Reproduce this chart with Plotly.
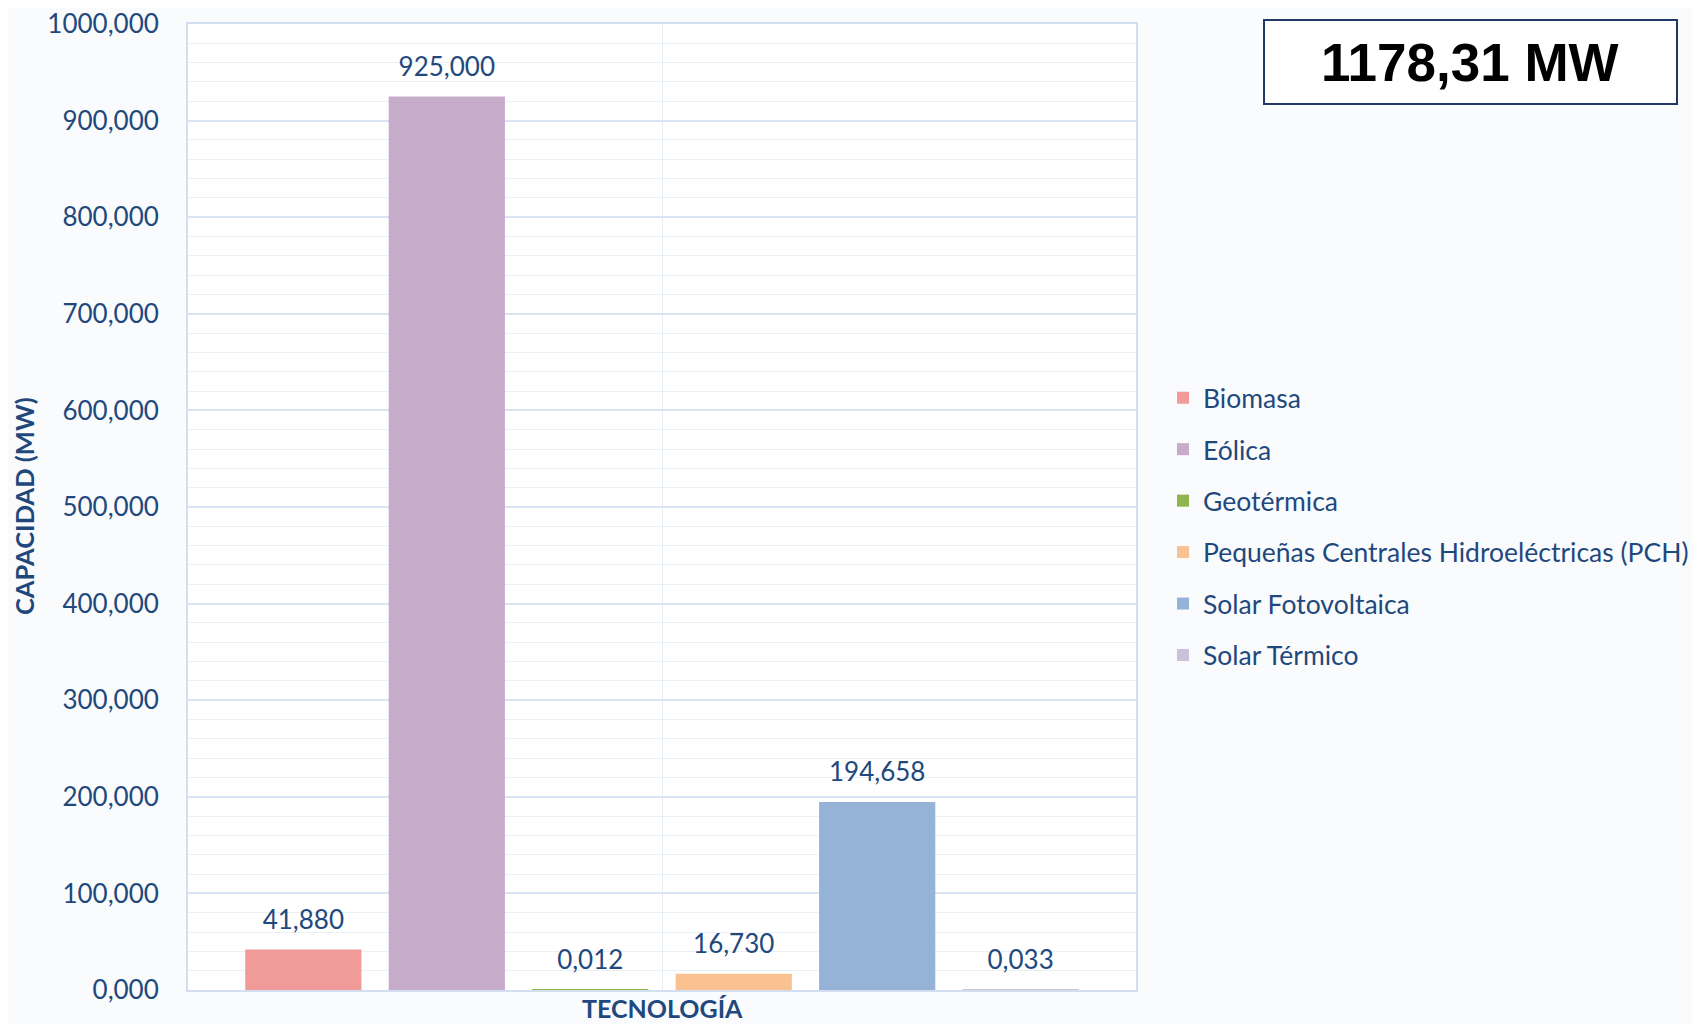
import plotly.graph_objects as go

categories = ["Biomasa", "Eólica", "Geotérmica",
              "Pequeñas Centrales Hidroeléctricas (PCH)",
              "Solar Fotovoltaica", "Solar Térmico"]
values = [41.880, 925.000, 0.012, 16.730, 194.658, 0.033]
colors = ["#F09B99", "#C6ABCA", "#8EB54E", "#FAC191", "#95B3D7", "#CCC1DA"]
y_ticks = [0, 100, 200, 300, 400, 500, 600, 700, 800, 900, 1000]
total_label = "1178,31 MW"
x_title = "TECNOLOGÍA"
y_title = "CAPACIDAD (MW)"

TXT = "#1F497D"
FONT = "Lato"
OFF = 8  # page body margin in the browser
GAP = 0.092

# target positions in window pixels (reference)
L, R, T, B = 188, 1136, 24, 990
W, H = 1700 - OFF, 1024 - OFF
pw, ph = R - L, B - T


def px(x):
    return (x - L) / pw


def py(y):
    return (B - y) / ph


fig = go.Figure()
for i, (name, val, col) in enumerate(zip(categories, values, colors)):
    fig.add_trace(go.Bar(
        x=["Tecnología"], y=[val], name=name, marker_color=col,
        marker_line_width=0, legendgroup=f"g{i}",
    ))
for i, (name, val) in enumerate(zip(categories, values)):
    fig.add_trace(go.Scatter(
        x=["Tecnología"], y=[val], name=name, mode="markers+text",
        marker=dict(size=21, opacity=0, color="#FFFFFF"),
        text=[f"{val:.3f}".replace(".", ",")], textposition="top center",
        textfont=dict(family=FONT, size=26, color=TXT),
        showlegend=False, hoverinfo="skip", cliponaxis=False,
    ))

fig.update_layout(
    width=W, height=H,
    margin=dict(l=L - OFF, r=1700 - R, t=T - OFF, b=1024 - B, autoexpand=False),
    paper_bgcolor="#FAFBFD", plot_bgcolor="#FFFFFF",
    separators=",.",
    barmode="group", bargap=GAP, bargroupgap=0.19,
    scattermode="group", scattergap=GAP,
    font=dict(family=FONT, color=TXT),
    showlegend=True,
    legend=dict(x=px(1163), y=py(374), xanchor="left", yanchor="top",
                font=dict(family=FONT, size=26.5, color=TXT),
                tracegroupgap=14, bgcolor="rgba(0,0,0,0)"),
    xaxis=dict(showticklabels=False, showgrid=True, gridcolor="#E6EDF6",
               showline=True, linecolor="#D3DFEE", linewidth=2, mirror=True,
               ticks="", zeroline=False),
    yaxis=dict(range=[0, 1000], tickvals=y_ticks, tickformat=".3f",
               tickfont=dict(family=FONT, size=26, color=TXT),
               ticklabeloverflow="allow",
               showgrid=True, gridcolor="#D9E4F2", gridwidth=1.5,
               minor=dict(dtick=20, showgrid=True, gridcolor="#EAF0F7", gridwidth=1),
               showline=True, linecolor="#D3DFEE", linewidth=2, mirror=True,
               zeroline=False, ticks="", ticklabelstandoff=22),
)

fig.add_annotation(text=f"<b>{y_title}</b>", xref="paper", yref="paper",
                   x=px(24), y=py(506), textangle=-90, showarrow=False,
                   font=dict(family=FONT, size=25.5, color=TXT),
                   xanchor="center", yanchor="middle")
fig.add_annotation(text=f"<b>{x_title}</b>", xref="paper", yref="paper",
                   x=px(662), y=py(1008), showarrow=False,
                   font=dict(family=FONT, size=25, color=TXT),
                   xanchor="center", yanchor="middle")

fig.add_shape(type="rect", xref="paper", yref="paper",
              x0=px(1264), x1=px(1677), y0=py(104), y1=py(20),
              line=dict(color="#1F3864", width=2), fillcolor="#FFFFFF", layer="below")
fig.add_annotation(text=f"<b>{total_label}</b>", xref="paper", yref="paper",
                   x=px(1470), y=py(62), showarrow=False,
                   font=dict(family="Liberation Sans", size=53, color="#000000"),
                   xanchor="center", yanchor="middle")

fig.write_html("out.html")
